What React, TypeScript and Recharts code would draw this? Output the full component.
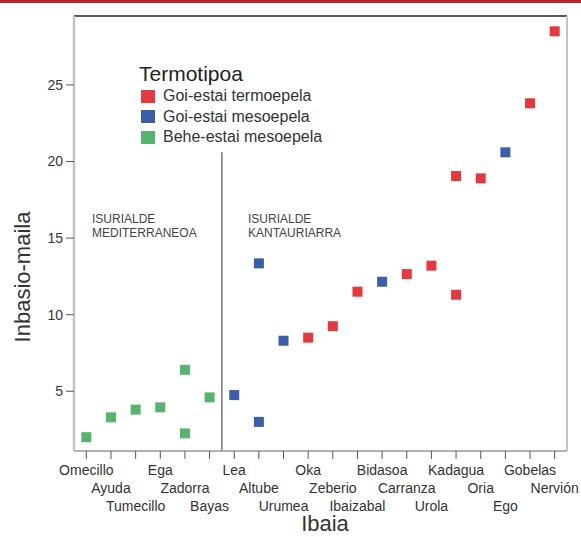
import {
  ReferenceLine,
  Scatter,
  ScatterChart,
  XAxis,
  YAxis,
} from "recharts";

const rivers = [
  "Omecillo", "Ayuda", "Tumecillo", "Ega", "Zadorra", "Bayas", "Lea", "Altube",
  "Urumea", "Oka", "Zeberio", "Ibaizabal", "Bidasoa", "Carranza", "Urola",
  "Kadagua", "Oria", "Ego", "Gobelas", "Nervión",
];

// Goi-estai termoepela
const redRivers = ["Oka", "Zeberio", "Ibaizabal", "Carranza", "Urola", "Kadagua", "Kadagua", "Oria", "Gobelas", "Nervión"];
const redValues = [8.5, 9.25, 11.5, 12.65, 13.2, 19.05, 11.3, 18.9, 23.8, 28.5];

// Goi-estai mesoepela
const blueRivers = ["Lea", "Altube", "Altube", "Urumea", "Bidasoa", "Ego"];
const blueValues = [4.75, 3.0, 13.35, 8.3, 12.15, 20.6];

// Behe-estai mesoepela
const greenRivers = ["Omecillo", "Ayuda", "Tumecillo", "Ega", "Zadorra", "Zadorra", "Bayas"];
const greenValues = [2.0, 3.3, 3.8, 3.95, 6.4, 2.25, 4.6];

const yTicks = [5, 10, 15, 20, 25];

const series = [
  { name: "Goi-estai termoepela", color: "#e5393f", names: redRivers, values: redValues },
  { name: "Goi-estai mesoepela", color: "#3b5eab", names: blueRivers, values: blueValues },
  { name: "Behe-estai mesoepela", color: "#55b46e", names: greenRivers, values: greenValues },
];

const toPoints = (names: string[], values: number[]) =>
  names.map((n, i) => ({ x: rivers.indexOf(n), y: values[i] }));

const FONT = "'Liberation Sans', Arial, sans-serif";

const XTick = (props: any) => {
  const { x, y, payload } = props;
  const i = payload.value as number;
  const row = i % 3;
  return (
    <text
      x={x}
      y={y + 14 + row * 18}
      textAnchor="middle"
      fontSize={14}
      fontFamily={FONT}
      fill="#333"
    >
      {rivers[i]}
    </text>
  );
};

const square = (color: string) => (props: any) => (
  <rect x={props.cx - 5} y={props.cy - 5} width={10} height={10} fill={color} />
);

export default function App() {
  return (
    <div
      style={{
        position: "absolute",
        left: 0,
        top: 0,
        width: 581,
        height: 537,
        background: "#fff",
        fontFamily: FONT,
      }}
    >
      <div style={{ position: "absolute", left: 0, top: 0, width: 581, height: 3, background: "#b3262b" }} />
      <ScatterChart width={581} height={537} margin={{ top: 16, right: 14, left: 0, bottom: 0 }}>
        <XAxis
          type="number"
          dataKey="x"
          domain={[-0.5, 19.5]}
          ticks={rivers.map((_, i) => i)}
          interval={0}
          height={86}
          tick={<XTick />}
          tickSize={8}
          axisLine={{ stroke: "#999", strokeWidth: 1.5 }}
          tickLine={{ stroke: "#555" }}
          label={() => (
            <text x={325} y={531} textAnchor="middle" fontSize={22} fontFamily={FONT} fill="#333">
              Ibaia
            </text>
          )}
        />
        <YAxis
          type="number"
          dataKey="y"
          domain={[1.1, 29.5]}
          allowDataOverflow
          ticks={yTicks}
          width={74}
          tickSize={8}
          tickMargin={3}
          axisLine={{ stroke: "#c4c4c4", strokeWidth: 2.5 }}
          tickLine={{ stroke: "#555" }}
          tick={{ fontSize: 14, fill: "#333", fontFamily: FONT }}
          label={() => (
            <text
              transform="translate(30,277) rotate(-90)"
              textAnchor="middle"
              fontSize={22}
              fontFamily={FONT}
              fill="#333"
            >
              Inbasio-maila
            </text>
          )}
        />
        <ReferenceLine y={29.5} stroke="#222" strokeWidth={1.5} />
        <ReferenceLine x={19.5} stroke="#c4c4c4" strokeWidth={2} />
        <ReferenceLine
          segment={[
            { x: 5.5, y: 1.1 },
            { x: 5.5, y: 20.6 },
          ]}
          stroke="#555"
          strokeWidth={1.2}
        />
        {series.map((s) => (
          <Scatter
            key={s.name}
            name={s.name}
            data={toPoints(s.names, s.values)}
            fill={s.color}
            shape={square(s.color)}
            isAnimationActive={false}
          />
        ))}
      </ScatterChart>

      <div style={{ position: "absolute", left: 92, top: 212, fontSize: 12, lineHeight: "14px", color: "#444" }}>
        ISURIALDE
        <br />
        MEDITERRANEOA
      </div>
      <div style={{ position: "absolute", left: 248, top: 212, fontSize: 12, lineHeight: "14px", color: "#444" }}>
        ISURIALDE
        <br />
        KANTAURIARRA
      </div>

      <div style={{ position: "absolute", left: 139, top: 62, color: "#222" }}>
        <div style={{ fontSize: 21, lineHeight: "24px" }}>Termotipoa</div>
        {series.map((s) => (
          <div key={s.name} style={{ display: "flex", alignItems: "center", height: 20.5, marginLeft: 2 }}>
            <span style={{ width: 14, height: 13, background: s.color, display: "inline-block", marginRight: 8 }} />
            <span style={{ fontSize: 16, color: "#333" }}>{s.name}</span>
          </div>
        ))}
      </div>
    </div>
  );
}
